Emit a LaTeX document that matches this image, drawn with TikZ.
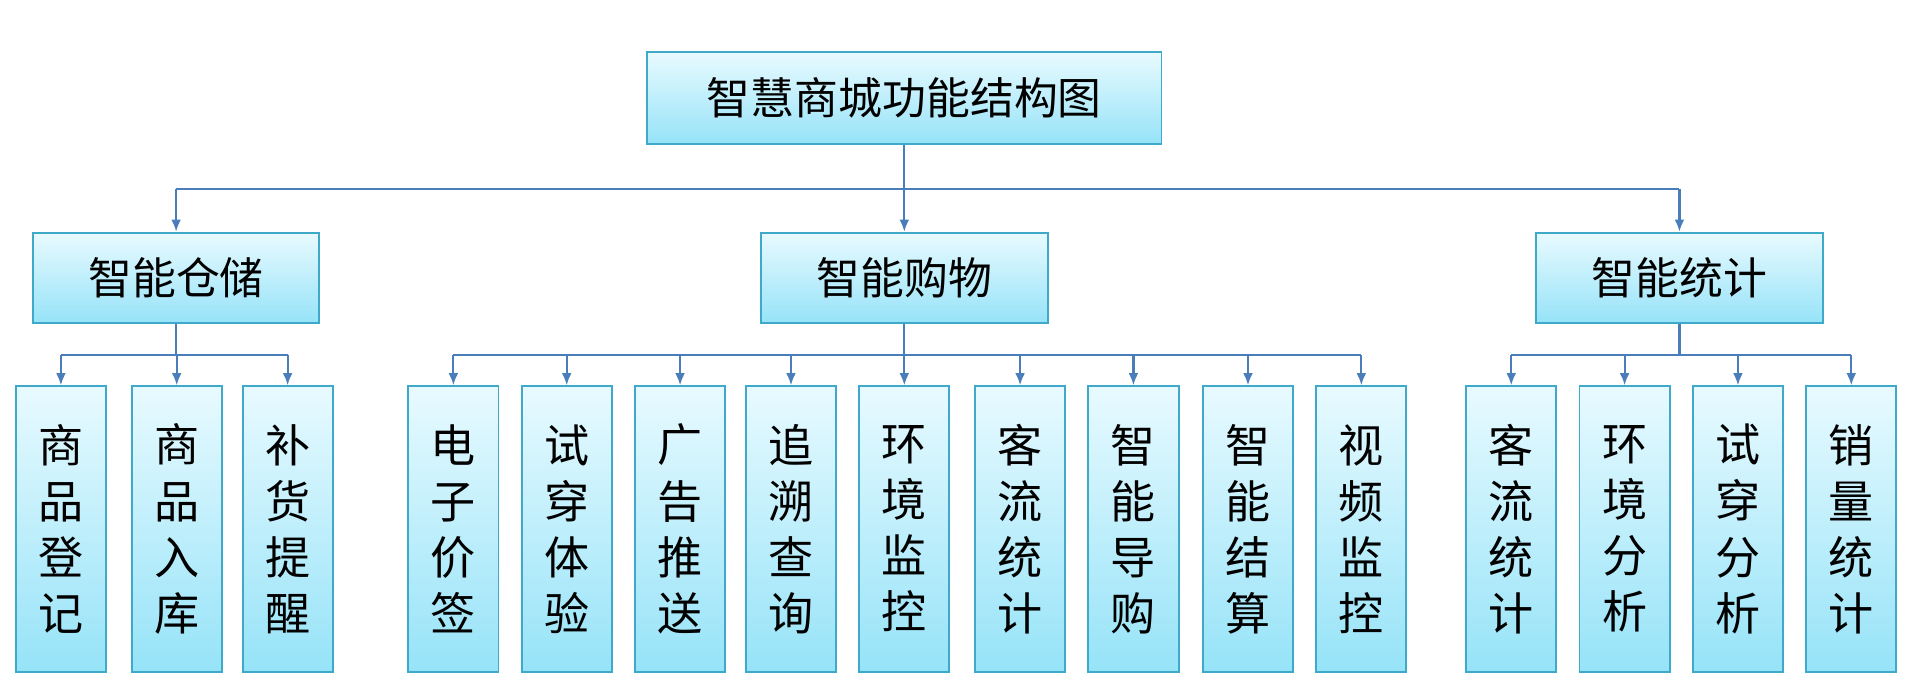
\documentclass[tikz,border=0pt]{standalone}
\usepackage{fontspec}
\setmainfont{Noto Sans CJK SC}
\definecolor{boxline}{HTML}{3FA9C9}
\definecolor{boxtop}{HTML}{E8FAFF}
\definecolor{boxbot}{HTML}{96E3F8}
\definecolor{wire}{HTML}{4A7EBB}
\tikzset{
  box/.style={draw=boxline, line width=0.8pt, top color=boxtop, bottom color=boxbot, inner sep=0pt},
  head/.style={box, minimum width=211pt, minimum height=37.5pt, font=\fontsize{18}{20}\selectfont},
  mid/.style={box, minimum width=117.5pt, minimum height=37pt, font=\fontsize{18}{20}\selectfont},
  leaf/.style={box, minimum width=37pt, minimum height=117pt, align=center, font=\fontsize{18.5}{23}\selectfont},
  wire/.style={draw=wire, line width=0.9pt},
  arr/.style={wire, -{Latex[length=5pt,width=4pt]}}
}
\usetikzlibrary{arrows.meta}
\begin{document}
\begin{tikzpicture}[x=0.5pt, y=-0.5pt]
\useasboundingbox (0,0) rectangle (1568,574);

% top
\node [head] (root) at (742,80.5) {智慧商城功能结构图};

% second level
\node [mid] (store) at (144.5,228) {智能仓储};
\node [mid] (shop)  at (742,228)   {智能购物};
\node [mid] (stat)  at (1378,228)  {智能统计};

\coordinate (bus) at (742,155);
\draw [wire] (root.south) -- (bus);
\draw [wire] (store.north |- bus) -- (stat.north |- bus);
\foreach \n in {store,shop,stat}
  \draw [arr] (\n.north |- bus) -- (\n.north);

% leaves
\foreach \x/\t [count=\i] in {50/商\\品\\登\\记, 145/商\\品\\入\\库, 236/补\\货\\提\\醒}
  \node [leaf] (a\i) at (\x,434) {\t};
\foreach \x/\t [count=\i] in {372/电\\子\\价\\签, 465/试\\穿\\体\\验, 558/广\\告\\推\\送,
    649/追\\溯\\查\\询, 742/环\\境\\监\\控, 837/客\\流\\统\\计,
    930/智\\能\\导\\购, 1024/智\\能\\结\\算, 1117/视\\频\\监\\控}
  \node [leaf] (b\i) at (\x,434) {\t};
\foreach \x/\t [count=\i] in {1240/客\\流\\统\\计, 1333/环\\境\\分\\析,
    1426/试\\穿\\分\\析, 1519/销\\量\\统\\计}
  \node [leaf] (c\i) at (\x,434) {\t};

% buses to leaves
\coordinate (abus) at (0,291);
\draw [wire] (store.south) -- (store.south |- abus);
\draw [wire] (a1.north |- abus) -- (a3.north |- abus);
\foreach \i in {1,...,3}
  \draw [arr] (a\i.north |- abus) -- (a\i.north);

\draw [wire] (shop.south) -- (shop.south |- abus);
\draw [wire] (b1.north |- abus) -- (b9.north |- abus);
\foreach \i in {1,...,9}
  \draw [arr] (b\i.north |- abus) -- (b\i.north);

\draw [wire] (stat.south) -- (stat.south |- abus);
\draw [wire] (c1.north |- abus) -- (c4.north |- abus);
\foreach \i in {1,...,4}
  \draw [arr] (c\i.north |- abus) -- (c\i.north);
\end{tikzpicture}
\end{document}
